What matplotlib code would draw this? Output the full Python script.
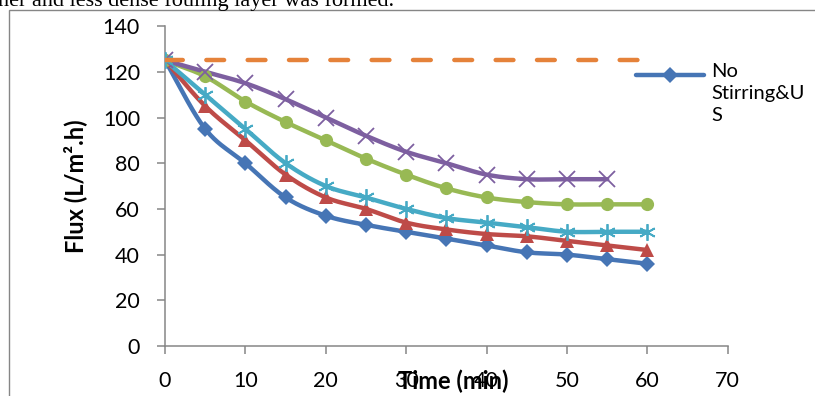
import matplotlib
matplotlib.use("Agg")
import matplotlib.pyplot as plt
import numpy as np
from matplotlib.lines import Line2D
from matplotlib.patches import Rectangle

# time axis (min)
time_min = [0, 5, 10, 15, 20, 25, 30, 35, 40, 45, 50, 55, 60]
time_purple = [0, 5, 10, 15, 20, 25, 30, 35, 40, 45, 50, 55]
time_ref = [0, 60]

# flux values (L/m2.h)
flux_no_stirring_us = [125, 95, 80, 65, 57, 53, 50, 47, 44, 41, 40, 38, 36]
flux_red = [125, 105, 90, 75, 65, 60, 54, 51, 49, 48, 46, 44, 42]
flux_cyan = [125, 110, 95, 80, 70, 65, 60, 56, 54, 52, 50, 50, 50]
flux_green = [125, 118, 107, 98, 90, 82, 75, 69, 65, 63, 62, 62, 62]
flux_purple = [125, 120, 115, 108, 100, 92, 85, 80, 75, 73, 73, 73]
flux_ref = [125, 125]

xticks = [0, 10, 20, 30, 40, 50, 60, 70]
yticks = [0, 20, 40, 60, 80, 100, 120, 140]

BLUE = "#4675B5"
RED = "#BE4B48"
GREEN = "#98B954"
PURPLE = "#7D5FA0"
CYAN = "#46AAC5"
ORANGE = "#E5823A"
GRAY = "#868686"

plt.rcParams["font.family"] = ["Lato", "DejaVu Sans"]


def smooth(x, y, n=24):
    # Catmull-Rom spline, similar to Excel's "smoothed line"
    x = np.asarray(x, float)
    y = np.asarray(y, float)
    px = np.concatenate(([2 * x[0] - x[1]], x, [2 * x[-1] - x[-2]]))
    py = np.concatenate(([2 * y[0] - y[1]], y, [2 * y[-1] - y[-2]]))
    xs, ys = [], []
    t = np.linspace(0, 1, n)
    for i in range(1, len(px) - 2):
        for p, out in ((px, xs), (py, ys)):
            p0, p1, p2, p3 = p[i - 1], p[i], p[i + 1], p[i + 2]
            out.extend(0.5 * ((2 * p1) + (-p0 + p2) * t
                              + (2 * p0 - 5 * p1 + 4 * p2 - p3) * t ** 2
                              + (-p0 + 3 * p1 - 3 * p2 + p3) * t ** 3))
    return np.array(xs), np.array(ys)


fig = plt.figure(figsize=(8.15, 3.96), dpi=100)
ax = fig.add_axes([0.2025, 0.1263, 0.6905, 0.8077])

series = [
    (time_min, flux_no_stirring_us, BLUE, "D", 8, 0),
    (time_min, flux_red, RED, "^", 10, 0),
    (time_min, flux_green, GREEN, "o", 9.5, 0),
    (time_purple, flux_purple, PURPLE, "x", 11, 1.3),
    (time_min, flux_cyan, CYAN, (6, 2, 0), 12, 1.3),
]
for xs, ys, col, mk, ms, mew in series:
    sx, sy = smooth(xs, ys)
    ax.plot(sx, sy, color=col, lw=3.2, solid_capstyle="round", zorder=2)
    ax.plot(xs, ys, ls="none", marker=mk, ms=ms, mew=mew, color=col, zorder=3)

ax.plot(time_ref, flux_ref, color=ORANGE, lw=3.2, dashes=(4.0, 5.3),
        dash_capstyle="round", zorder=4)

ax.set_xlim(0, 70)
ax.set_ylim(0, 140)
ax.set_xticks(xticks)
ax.set_yticks(yticks)
ax.tick_params(axis="both", colors=GRAY, labelcolor="black", labelsize=15.5,
               length=6, width=1.1, pad=12)
for side in ("top", "right"):
    ax.spines[side].set_visible(False)
for side in ("left", "bottom"):
    ax.spines[side].set_color(GRAY)
    ax.spines[side].set_linewidth(1.1)
ax.set_facecolor("none")

# axis titles (positioned as in the source figure)
fig.text(0.556, 0.038, "Time (min)", fontsize=17, fontweight="bold",
         ha="center", va="center")
fig.text(0.092, 0.53, "Flux (L/m\u00b2.h)", fontsize=17, fontweight="bold",
         rotation=90, ha="center", va="center")

# legend (only first entry visible in the source)
fig.add_artist(Line2D([0.780, 0.864], [0.810, 0.810], color=BLUE, lw=3.2,
                      solid_capstyle="round"))
fig.add_artist(Line2D([0.822], [0.810], color=BLUE, marker="D", ms=8, mew=0))
fig.text(0.873, 0.842, "No\nStirring&U\nS", fontsize=14.5, ha="left", va="top",
         linespacing=1.39)

# chart border and surrounding document text
fig.add_artist(Rectangle((0.011, -0.05), 1.2, 1.025, transform=fig.transFigure,
                         fill=False, edgecolor=GRAY, lw=1.0))
fig.text(-0.002, 1 - 6 / 396, "ner and less dense fouling layer was formed.",
         family=["Liberation Serif", "DejaVu Serif"], fontsize=16,
         ha="left", va="baseline")

fig.savefig("out.png", dpi=100)
